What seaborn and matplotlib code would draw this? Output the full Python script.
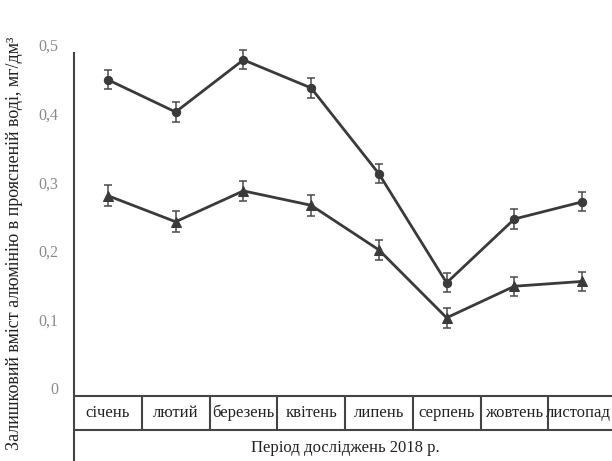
import numpy as np
import pandas as pd
import matplotlib
matplotlib.use("Agg")
import matplotlib.pyplot as plt
import matplotlib.transforms as mtransforms
import seaborn as sns

months = ["січень", "лютий", "березень", "квітень", "липень", "серпень", "жовтень", "листопад"]
upper_vals = [0.461, 0.414, 0.490, 0.449, 0.324, 0.165, 0.258, 0.283]
upper_err = [0.014, 0.014, 0.014, 0.014, 0.014, 0.014, 0.014, 0.014]
lower_vals = [0.292, 0.254, 0.299, 0.278, 0.213, 0.114, 0.160, 0.167]
lower_err = [0.015, 0.015, 0.015, 0.015, 0.015, 0.015, 0.014, 0.014]
ytick_vals = [0, 0.1, 0.2, 0.3, 0.4, 0.5]
ytick_labels = ["0", "0,1", "0,2", "0,3", "0,4", "0,5"]
ylabel = "Залишковий вміст алюмінію в проясненій воді, мг/дм³"
xlabel = "Період досліджень 2018 р."

sns.set_style("white")
plt.rcParams["font.family"] = ["Liberation Serif", "DejaVu Serif"]

W, H = 612, 461
fig = plt.figure(figsize=(W / 100, H / 100), dpi=100)
ax = fig.add_axes([74 / W, 0, (616 - 74) / W, (H - 25) / H])

pos = np.arange(len(months))
df = pd.DataFrame({"pos": np.concatenate([pos, pos]),
                   "value": upper_vals + lower_vals,
                   "err": upper_err + lower_err,
                   "series": ["upper"] * len(months) + ["lower"] * len(months)})

line_col = "#3a3a3a"
for name, mk, ms in [("upper", "o", 6), ("lower", "^", 7)]:
    d = df[df["series"] == name]
    ax.errorbar(d["pos"], d["value"], yerr=d["err"], fmt="none", ecolor="#4a4a4a",
                elinewidth=1.1, capsize=3, capthick=1.1, zorder=2)
    sns.lineplot(data=d, x="pos", y="value", ax=ax, sort=False, color=line_col,
                 marker=mk, markersize=ms, markeredgecolor=line_col,
                 markerfacecolor=line_col, linewidth=2.0, zorder=3)

ybot = -(H - 396) / 686
ytop = (396 - 25) / 686
ax.set_xlim(-0.5, len(months) - 0.5)
ax.set_ylim(ybot, ytop)
ax.set_xlabel("")
ax.set_ylabel("")
ax.set_xticks([])

for s in ["top", "right", "bottom"]:
    ax.spines[s].set_visible(False)
ax.spines["left"].set_bounds(ybot, 0.5)
ax.spines["left"].set_color("#444444")
ax.spines["left"].set_linewidth(1.5)

ax.set_yticks(ytick_vals)
ax.set_yticklabels(ytick_labels)
ax.tick_params(axis="y", direction="inout", length=15, width=1.5, color="#444444",
               labelsize=11.5, labelcolor="#8a8a8a", pad=4)
ax.yaxis.get_major_ticks()[0].tick1line.set_visible(False)
offset = mtransforms.ScaledTranslation(0, 8 / 100, fig.dpi_scale_trans)
for lab in ax.get_yticklabels():
    lab.set_transform(lab.get_transform() + offset)

# table below the plot
mid = -(430 - 396) / 686
tcol = "#444444"
ax.hlines([0, mid], -0.5, len(months) - 0.5, color=tcol, linewidth=1.5, clip_on=False)
ax.vlines(pos + 0.5, mid, 0, color=tcol, linewidth=1.5, clip_on=False)
edge_tr = mtransforms.blended_transform_factory(fig.transFigure, ax.transData)
for p, m in zip(pos, months):
    if p == pos[-1]:
        ax.text(0.998, mid / 2, m, ha="right", va="center", fontsize=12,
                color="#222222", transform=edge_tr)
    else:
        ax.text(p, mid / 2, m, ha="center", va="center", fontsize=12, color="#222222")
ax.text((len(months) - 1) / 2, -(448 - 396) / 686, xlabel, ha="center", va="center",
        fontsize=12, color="#222222")

fig.text(15 / W, 1 - 243 / H, ylabel, rotation=90, ha="center", va="center",
         fontsize=13, color="#222222")

fig.savefig("out.png", dpi=100, facecolor="white")
